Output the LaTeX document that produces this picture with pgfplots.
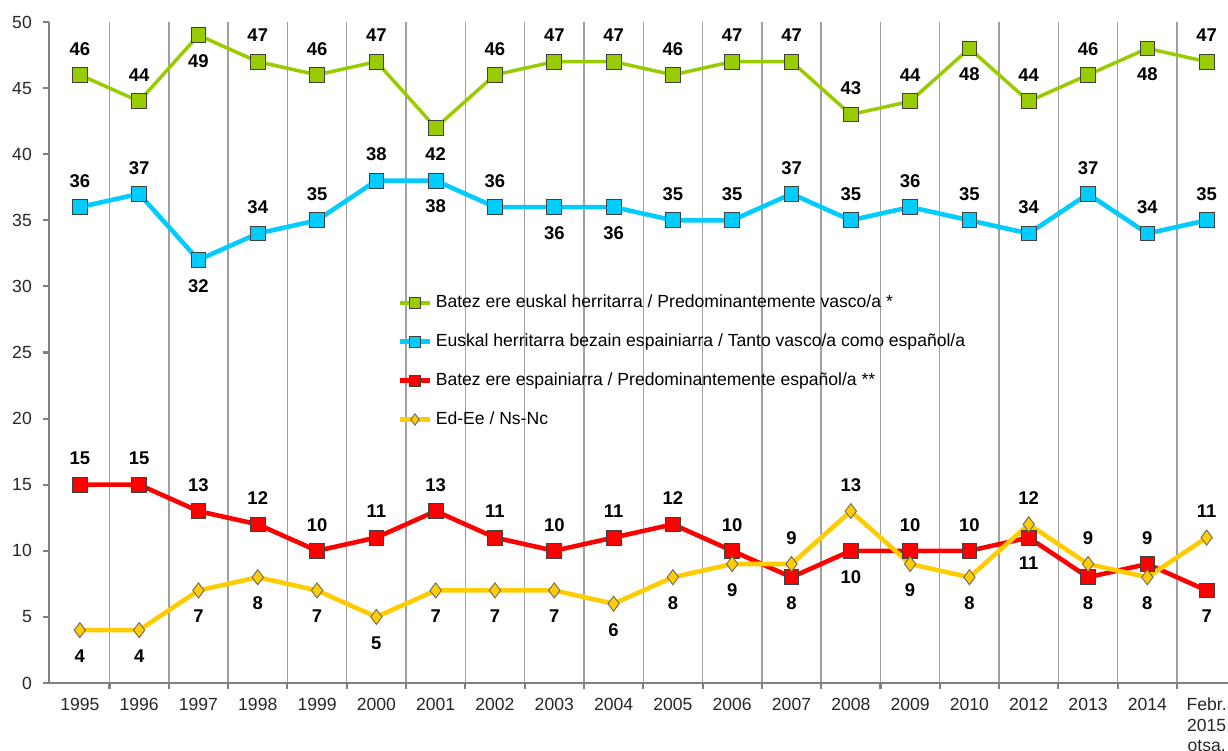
\documentclass[border=0pt]{standalone}
\usepackage{pgfplots}
\pgfplotsset{compat=1.18}
\usepackage{pgfplotstable}
\usepackage{fontspec}
\setmainfont{Liberation Sans}

\definecolor{cgreen}{HTML}{99CC00}
\definecolor{cblue}{HTML}{00CCFF}
\definecolor{cred}{HTML}{FF0000}
\definecolor{cyellow}{HTML}{FFCC00}
\definecolor{axgray}{HTML}{808080}
\definecolor{grgray}{HTML}{A0A0A0}

% m = value with sign: positive -> label above, negative -> label below
\pgfplotstableread{
x y m
0 46 46
1 44 44
2 49 -49
3 47 47
4 46 46
5 47 47
6 42 -42
7 46 46
8 47 47
9 47 47
10 46 46
11 47 47
12 47 47
13 43 43
14 44 44
15 48 -48
16 44 44
17 46 46
18 48 -48
19 47 47
}\vasco

\pgfplotstableread{
x y m
0 36 36
1 37 37
2 32 -32
3 34 34
4 35 35
5 38 38
6 38 -38
7 36 36
8 36 -36
9 36 -36
10 35 35
11 35 35
12 37 37
13 35 35
14 36 36
15 35 35
16 34 34
17 37 37
18 34 34
19 35 35
}\tanto

\pgfplotstableread{
x y m
0 15 15
1 15 15
2 13 13
3 12 12
4 10 10
5 11 11
6 13 13
7 11 11
8 10 10
9 11 11
10 12 12
11 10 10
12 8 -8
13 10 -10
14 10 10
15 10 10
16 11 -11
17 8 -8
18 9 9
19 7 -7
}\espanol

\pgfplotstableread{
x y m
0 4 -4
1 4 -4
2 7 -7
3 8 -8
4 7 -7
5 5 -5
6 7 -7
7 7 -7
8 7 -7
9 6 -6
10 8 -8
11 9 -9
12 9 9
13 13 13
14 9 -9
15 8 -8
16 12 12
17 9 9
18 8 -8
19 11 11
}\nsnc

\pgfplotsset{
  lbl/.style={
    point meta=explicit symbolic,
    nodes near coords={\pgfmathparse{int(abs(\pgfplotspointmeta))}\pgfmathresult},
    every node near coord/.style={anchor=center,
        yshift={\pgfplotspointmeta/abs(\pgfplotspointmeta)*5.2mm},
        font=\fontsize{10.5}{12}\selectfont\bfseries, text=black},
  }
}

\begin{document}
\begin{tikzpicture}
\useasboundingbox (-0.98,-1.36) rectangle (23.58,13.66);
\begin{axis}[
    at={(0,0)}, anchor=south west,
    width=23.58cm, height=13.22cm,
    scale only axis,
    xmin=-0.52, xmax=19.36,
    ymin=0, ymax=50,
    axis lines=left,
    axis line style={-, axgray, line width=1.6pt},
    tick align=outside,
    major tick length=1.2mm,
    tick style={axgray, line width=1.2pt},
    xtick={0.5,1.5,...,18.5},
    xticklabels={,,,,,,,,,,,,,,,,,,,},
    xmajorgrids,
    major grid style={grgray, line width=0.8pt},
    extra x ticks={0,1,...,19},
    extra x tick labels={1995,1996,1997,1998,1999,2000,2001,2002,2003,2004,2005,2006,2007,2008,2009,2010,2012,2013,2014,{Febr.\\2015\\otsa.}},
    extra x tick style={grid=none, major tick length=0pt,
        xticklabel style={align=center, yshift=-1.8mm}},
    ytick={0,5,...,50},
    yticklabel style={xshift=-1.0mm},
    ticklabel style={font=\fontsize{10}{11.5}\selectfont, text=black!85},
    /pgf/number format/assume math mode=true,
    clip=false,
    legend style={at={(0.291,0.598)}, anchor=north west, draw=none, fill=none,
        font=\fontsize{10}{12}\selectfont, row sep=3.3mm,
        cells={anchor=west}},
    legend cell align=left,
    legend image post style={every mark/.append style={scale=0.75}},
]
\addplot[cgreen, line width=2pt, mark=square*, lbl,
    mark options={fill=cgreen, draw=black!75, line width=0.5pt, mark size=4.2pt}]
    table[x=x,y=y,meta=m] {\vasco};
\addlegendentry{Batez ere euskal herritarra / Predominantemente vasco/a *}
\addplot[cblue, line width=2.6pt, mark=square*, lbl,
    mark options={fill=cblue, draw=black!75, line width=0.5pt, mark size=4.2pt}]
    table[x=x,y=y,meta=m] {\tanto};
\addlegendentry{Euskal herritarra bezain espainiarra / Tanto vasco/a como español/a}
\addplot[cred, line width=2.6pt, mark=square*, lbl,
    mark options={fill=cred, draw=black!75, line width=0.5pt, mark size=4.2pt}]
    table[x=x,y=y,meta=m] {\espanol};
\addlegendentry{Batez ere espainiarra / Predominantemente español/a **}
\addplot[cyellow, line width=2.6pt, mark=diamond*, lbl,
    mark options={fill=cyellow, draw=black!60, line width=0.5pt, mark size=4.3pt}]
    table[x=x,y=y,meta=m] {\nsnc};
\addlegendentry{Ed-Ee / Ns-Nc}
\end{axis}
\end{tikzpicture}
\end{document}
